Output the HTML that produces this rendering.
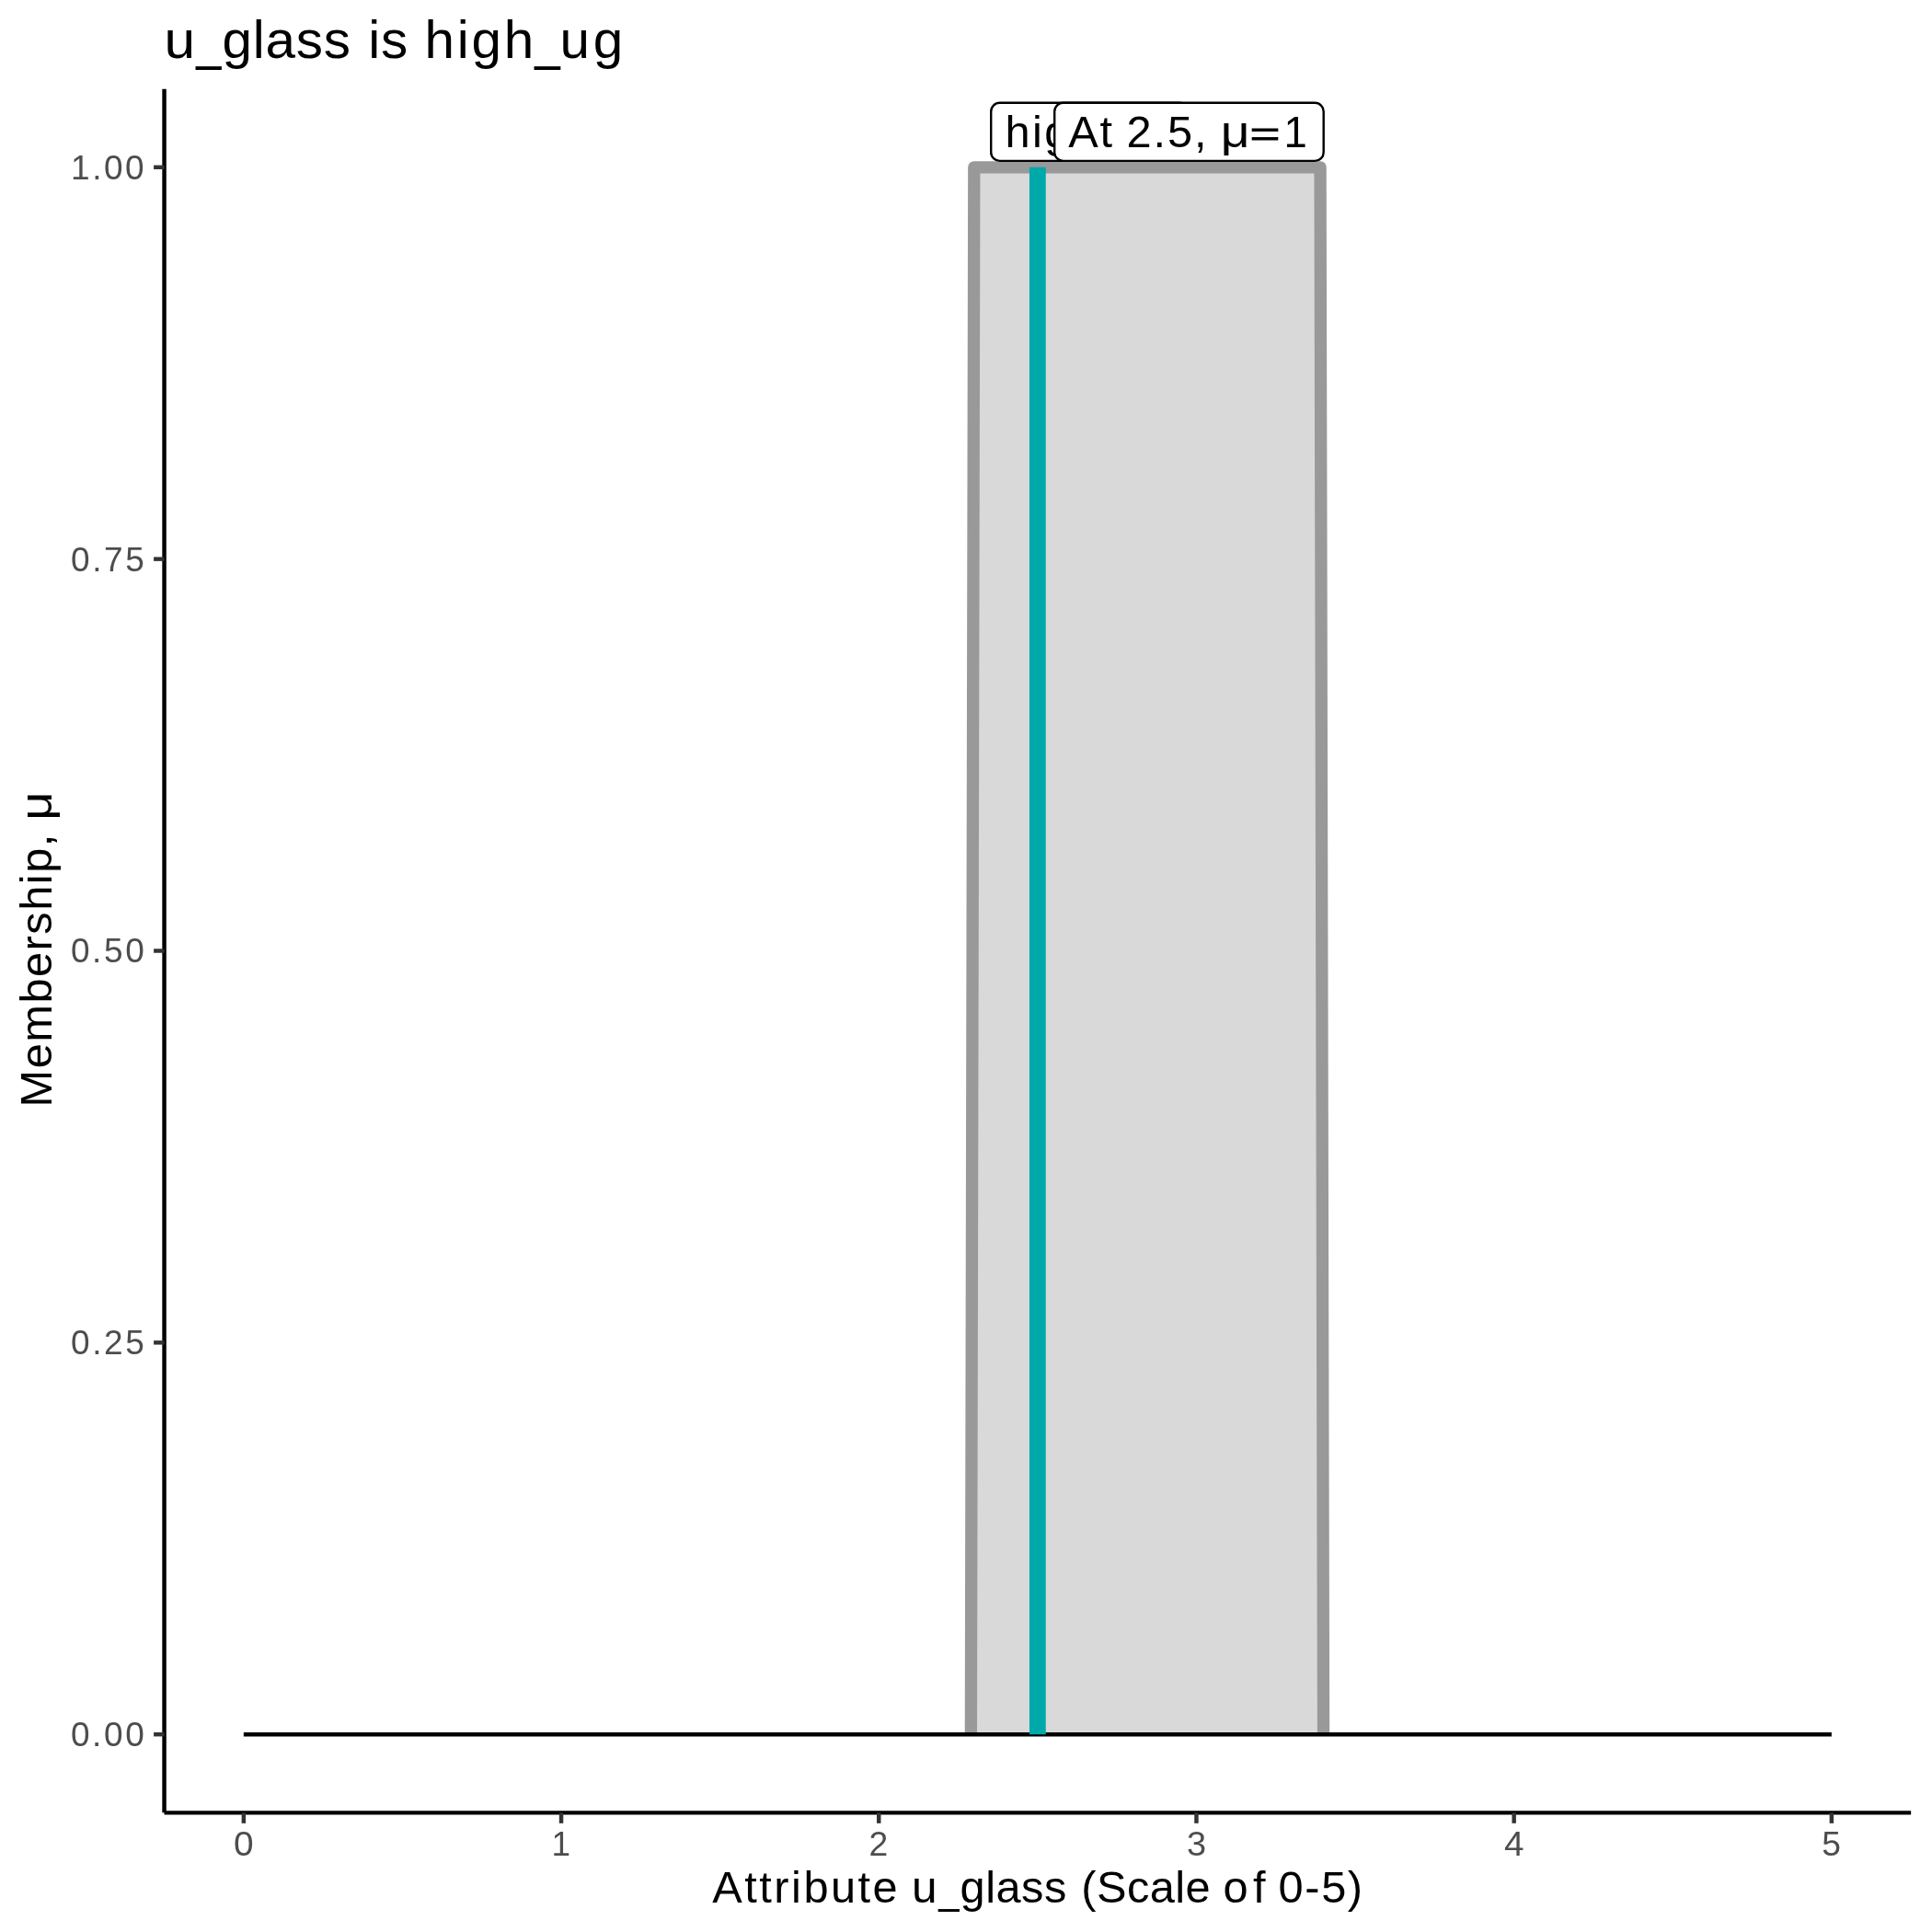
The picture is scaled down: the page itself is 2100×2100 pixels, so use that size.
<!DOCTYPE html>
<html><head><meta charset="utf-8"><title>u_glass is high_ug</title>
<style>
html,body{margin:0;padding:0;background:#fff;}
svg{display:block;will-change:transform;}
text{font-family:"Liberation Sans",sans-serif;white-space:pre;}
</style></head>
<body>
<svg width="2100" height="2100" viewBox="0 0 2100 2100">
<rect width="2100" height="2100" fill="#fff"/>
<!-- membership area -->
<path d="M1055.36,1885.20 L1058.81,181.80 L1435.08,181.80 L1438.53,1885.20 Z" fill="#D9D9D9" stroke="none"/>
<path d="M1055.36,1885.20 L1058.81,181.80 L1435.08,181.80 L1438.53,1885.20" fill="none" stroke="#999999" stroke-width="13.3" stroke-linejoin="round" stroke-linecap="butt"/>
<!-- zero line -->
<line x1="264.85" x2="1990.85" y1="1885.20" y2="1885.20" stroke="#000" stroke-width="4.45"/>
<!-- marker -->
<line x1="1127.85" x2="1127.85" y1="1885.20" y2="181.80" stroke="#00A9A9" stroke-width="17.8"/>
<!-- labels -->
<rect x="1077.20" y="111.80" width="214.60" height="63.10" rx="9.4" ry="9.4" fill="#fff" stroke="#000" stroke-width="2.4"/>
<g font-size="47.8" fill="#000">
<text transform="translate(1092.51,160.00) scale(1.0200,1)" letter-spacing="2.41">hig</text>
</g>
<rect x="1146.20" y="111.80" width="292.50" height="63.10" rx="9.4" ry="9.4" fill="#fff" stroke="#000" stroke-width="2.4"/>
<g font-size="47.8" fill="#000">
<text transform="translate(1161.18,160.00) scale(1.0200,1)" letter-spacing="1.68">At</text>
<text transform="translate(1224.54,160.00) scale(1.0200,1)" letter-spacing="1.90">2.5,</text>
<text transform="translate(1326.76,160.00) scale(1.1560,1)">μ</text>
<text transform="translate(1358.45,158.28) scale(1.1835,0.7580)" stroke="#000" stroke-width="1.0">=</text>
<text transform="translate(1395.44,160.00) scale(0.9511,1)">1</text>
</g>
<!-- axes -->
<line x1="178.55" x2="178.55" y1="96.63" y2="1970.37" stroke="#000" stroke-width="4.45"/>
<line x1="178.55" x2="2077.15" y1="1970.37" y2="1970.37" stroke="#000" stroke-width="4.45"/>
<g stroke="#333333" stroke-width="4.45">
<line x1="167.09" x2="178.55" y1="1885.20" y2="1885.20"/>
<line x1="167.09" x2="178.55" y1="1459.35" y2="1459.35"/>
<line x1="167.09" x2="178.55" y1="1033.50" y2="1033.50"/>
<line x1="167.09" x2="178.55" y1="607.65" y2="607.65"/>
<line x1="167.09" x2="178.55" y1="181.80" y2="181.80"/>
<line x1="264.85" x2="264.85" y1="1970.37" y2="1981.83"/>
<line x1="610.05" x2="610.05" y1="1970.37" y2="1981.83"/>
<line x1="955.25" x2="955.25" y1="1970.37" y2="1981.83"/>
<line x1="1300.45" x2="1300.45" y1="1970.37" y2="1981.83"/>
<line x1="1645.65" x2="1645.65" y1="1970.37" y2="1981.83"/>
<line x1="1990.85" x2="1990.85" y1="1970.37" y2="1981.83"/>
</g>
<!-- tick labels -->
<g font-size="37.0" fill="#4D4D4D">
<text transform="translate(77.09,195.00) scale(1.0000,1)" letter-spacing="2.51">1.00</text>
<text transform="translate(76.92,621.00) scale(1.0000,1)" letter-spacing="2.64">0.75</text>
<text transform="translate(76.92,1046.00) scale(1.0000,1)" letter-spacing="2.60">0.50</text>
<text transform="translate(76.92,1472.00) scale(1.0000,1)" letter-spacing="2.64">0.25</text>
<text transform="translate(76.92,1898.00) scale(1.0000,1)" letter-spacing="2.60">0.00</text>
</g>
<g font-size="37.0" fill="#4D4D4D">
<text transform="translate(254.05,2017.00) scale(1.0497,1)">0</text>
<text transform="translate(599.60,2017.00) scale(0.9990,1)">1</text>
<text transform="translate(944.40,2017.00) scale(1.0078,1)">2</text>
<text transform="translate(1289.98,2017.00) scale(1.0262,1)">3</text>
<text transform="translate(1634.89,2017.00) scale(1.0466,1)">4</text>
<text transform="translate(1980.33,2017.00) scale(1.0055,1)">5</text>
</g>
<!-- titles -->
<g font-size="57.3" fill="#000">
<text transform="translate(178.48,63.00) scale(1.0544,1)">u</text>
<text transform="translate(213.32,64.20) scale(0.8515,1.0726)">_</text>
<text transform="translate(241.41,63.00) scale(1.0200,1)" letter-spacing="0.80">glass</text>
<text transform="translate(400.20,63.00) scale(1.0200,1)" letter-spacing="0.77">is</text>
<text transform="translate(461.54,63.00) scale(1.0200,1)" letter-spacing="2.73">high</text>
<text transform="translate(581.23,64.20) scale(0.8635,1.0726)">_</text>
<text transform="translate(608.61,63.00) scale(1.0200,1)" letter-spacing="3.49">ug</text>
</g>
<g font-size="47.8" fill="#000">
<text transform="translate(774.28,2068.00) scale(1.0200,1)" letter-spacing="2.44">Attribute</text>
<text transform="translate(991.05,2068.00) scale(1.0378,1)">u</text>
<text transform="translate(1020.28,2069.14) scale(0.8375,0.9758)">_</text>
<text transform="translate(1043.53,2068.00) scale(1.0200,1)" letter-spacing="0.48">glass</text>
<text transform="translate(1175.35,2068.00) scale(1.0200,1)" letter-spacing="0.43">(Scale</text>
<text transform="translate(1329.52,2068.00) scale(1.0200,1)" letter-spacing="5.34">of</text>
<text transform="translate(1389.59,2068.00) scale(1.0200,1)" letter-spacing="1.57">0-5)</text>
</g>
<g font-size="47.8" fill="#000">
<text transform="translate(56.00,1203.40) rotate(-90) scale(1.0200,1)" letter-spacing="1.47">Membership,</text>
<text transform="translate(56.00,891.68) rotate(-90) scale(1.1368,1)">μ</text>
</g>
</svg>
</body></html>
